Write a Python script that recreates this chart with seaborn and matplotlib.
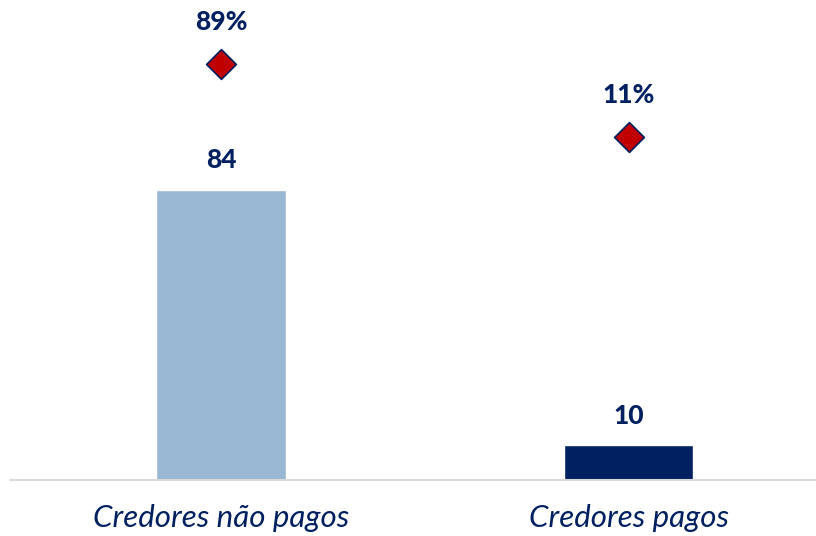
import matplotlib
matplotlib.use("Agg")
import matplotlib.pyplot as plt
import seaborn as sns
import numpy as np
import pandas as pd

categories = ["Credores não pagos", "Credores pagos"]
counts = [84, 10]
shares = [89, 11]
bar_colors = ["#9AB7D3", "#002060"]

NAVY = "#002060"
RED = "#C00000"

sns.set_theme(style="white")
plt.rcParams["font.family"] = ["Lato", "DejaVu Sans"]

df = pd.DataFrame({"categoria": categories, "n": counts, "pct": shares})

fig = plt.figure(figsize=(8.16, 5.36), dpi=100)
ax = fig.add_axes([11 / 816, 56 / 536, 805 / 816, 480 / 536])

sns.barplot(data=df, x="categoria", y="n", hue="categoria",
            palette=bar_colors, width=0.317, legend=False, ax=ax,
            saturation=1)

ax.set_xlim(-0.515, 1.46)
ax.set_ylim(0, 139.05)

for spine in ["top", "right", "left"]:
    ax.spines[spine].set_visible(False)
ax.spines["bottom"].set_color("#D9D9D9")
ax.spines["bottom"].set_linewidth(1.5)
ax.set_yticks([])
ax.set_xlabel("")
ax.set_ylabel("")
ax.tick_params(axis="x", length=0, pad=17)
ax.set_xticks(range(len(categories)))
ax.set_xticklabels(categories, fontsize=22.5, style="italic", color=NAVY)

# count labels above bars
for i, v in enumerate(counts):
    ax.annotate(f"{v}", xy=(i, v), xytext=(0, 21.5), textcoords="offset points",
                ha="center", va="center", fontsize=19, fontweight="black",
                color=NAVY)

# share markers on secondary axis
ax2 = ax.twinx()
sns.scatterplot(x=np.arange(len(categories)), y=shares, marker="D", s=230,
                color=RED, edgecolor=NAVY, linewidth=1.2, ax=ax2, zorder=5)
ax2.set_ylim(-357.3, 157.7)
ax2.set_xlim(-0.515, 1.46)
ax2.set_yticks([])
ax2.set_ylabel("")
for spine in ax2.spines.values():
    spine.set_visible(False)

for i, p in enumerate(shares):
    ax2.annotate(f"{p}%", xy=(i, p), xytext=(0, 30), textcoords="offset points",
                 ha="center", va="center", fontsize=19, fontweight="black",
                 color=NAVY)

fig.savefig("out.png", dpi=100)
